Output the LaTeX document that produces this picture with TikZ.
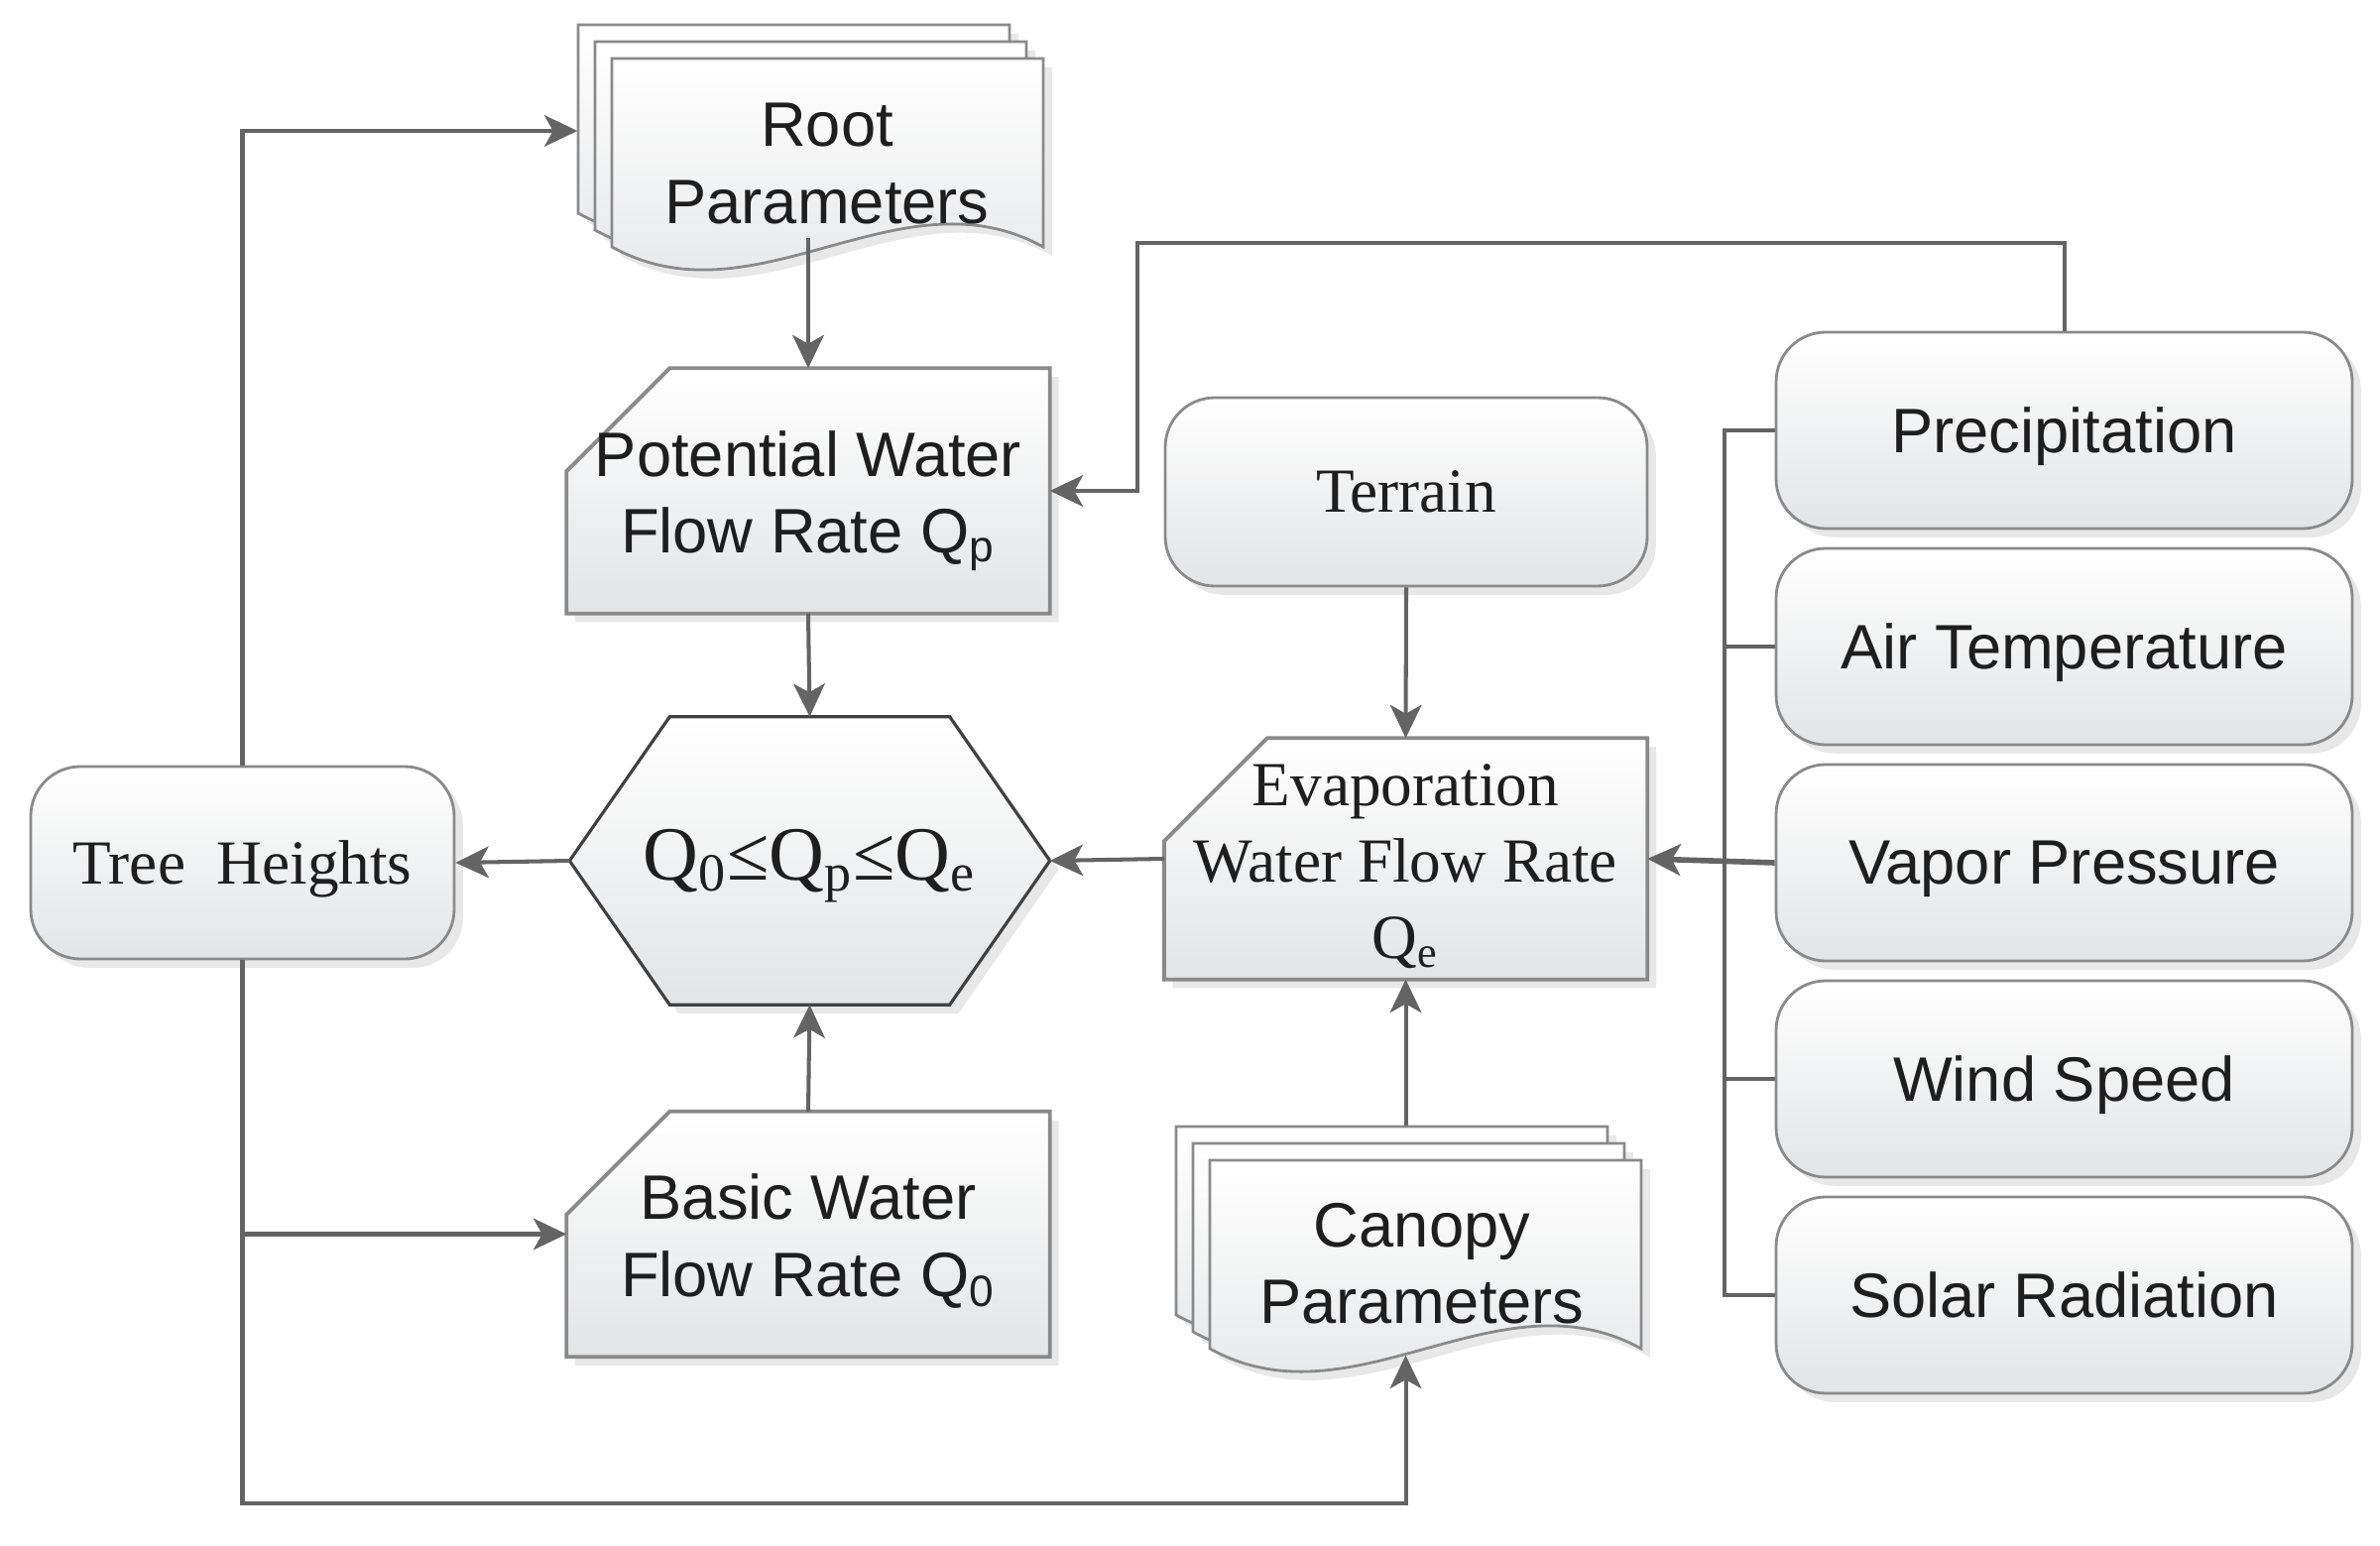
\documentclass[tikz,border=0pt]{standalone}
\usepackage{fontspec}
\setmainfont{Liberation Serif}
\newfontfamily\arialfont{Liberation Sans}
\usetikzlibrary{arrows.meta,shadows,backgrounds,calc}

\definecolor{linegray}{HTML}{646464}
\definecolor{boxline}{HTML}{8A8A8A}
\definecolor{shadebot}{HTML}{E3E4E6}
\definecolor{txt}{HTML}{1E1E1E}

% one sheet of a document stack, top left corner at (#1,#2)
\newcommand{\docsheet}[2]{%
  \path[sheet] (#1,#2) -- (#1+4.35,#2) -- (#1+4.35,#2-1.9)
    .. controls (#1+2.9,#2-1.1) and (#1+1.45,#2-2.7) .. (#1,#2-1.9) -- cycle;}
% subscript that does not change the line depth
\newcommand{\lowidx}[1]{\smash{\textsubscript{#1}}}

\begin{document}
\begin{tikzpicture}[font=\fontsize{18}{22}\selectfont, text=txt,
  boxfill/.style={top color=white, bottom color=shadebot,
    drop shadow={shadow xshift=2.5pt, shadow yshift=-2.5pt, opacity=0.18}},
  rbox/.style={boxfill, draw=boxline, line width=0.8pt, rounded corners=0.5cm, align=center, text depth=0pt},
  flownode/.style={minimum width=4.86cm, minimum height=2.46cm, align=center, inner sep=0pt},
  stack/.style={minimum width=4.69cm, inner sep=0pt},
  sans/.style={font=\arialfont\fontsize{18}{22}\selectfont},
  cutline/.style={boxfill, draw=boxline, line width=1.1pt},
  sheet/.style={boxfill, draw=boxline, line width=0.8pt},
  conn/.style={draw=linegray, line width=1.15pt},
  arr/.style={conn, -{Stealth[length=9.5pt, width=9pt, inset=2.5pt]}}]
\useasboundingbox (0,0) rectangle (24,15.58);

% document stacks
\docsheet{5.83}{15.33}
\docsheet{6.00}{15.16}
\docsheet{6.17}{14.99}
\node[sans, align=center] (rootlbl) at (8.34,13.93) {Root\\Parameters};
\node[stack, minimum height=2.14cm] (root) at (8.175,14.26) {};

\docsheet{11.86}{4.22}
\docsheet{12.03}{4.05}
\docsheet{12.20}{3.88}
\node[sans, align=center] (canopylbl) at (14.34,2.84) {Canopy\\Parameters};
\node[stack, minimum height=2.30cm] (canopy) at (13.205,3.07) {};

% boxes
\node[rbox, minimum width=4.27cm, minimum height=1.94cm] (tree) at (2.445,6.88) {Tree~ Heights};
\node[rbox, minimum width=4.86cm, minimum height=1.90cm] (terrain) at (14.18,10.62) {Terrain};
\node[flownode, sans] (pot) at (8.15,10.63) {\rule{0pt}{17pt}Potential Water\\Flow Rate Q\lowidx{p}};
\node[flownode, sans] (basic) at (8.15,3.135) {\rule{0pt}{17pt}Basic Water\\Flow Rate Q\lowidx{0}};
\node[flownode, minimum height=2.42cm] (evap) at (14.175,6.92) {\rule{0pt}{16.3pt}Evaporation\\Water Flow Rate\\Q\lowidx{e}};
\node[flownode, minimum width=4.83cm, minimum height=2.89cm, font=\fontsize{22}{26}\selectfont] (hex) at (8.165,6.90)
  {Q\lowidx{0}≤Q\lowidx{p}≤Q\lowidx{e}};

\begin{scope}[on background layer]
\foreach \n in {pot,basic,evap}
  \path[cutline] (\n.south west) -- (\n.south east) -- (\n.north east)
    -- ([xshift=1.04cm]\n.north west) -- ([yshift=-1.04cm]\n.north west) -- cycle;
\path[boxfill, draw=black!75, line width=0.9pt] (hex.west) -- ([xshift=1.01cm]hex.north west)
  -- ([xshift=-1.01cm]hex.north east) -- (hex.east) -- ([xshift=-1.01cm]hex.south east)
  -- ([xshift=1.01cm]hex.south west) -- cycle;
\end{scope}

\foreach \lbl [count=\i] in {Precipitation, Air Temperature, Vapor Pressure, Wind Speed, Solar Radiation}
  \node[rbox, sans, minimum width=5.81cm, minimum height=1.98cm] (w\i) at (20.815,13.42-2.18*\i) {\lbl};

% connectors
\draw[arr] (root.south -| pot.north) -- (pot.north);
\draw[arr] (pot.south) -- (hex.north);
\draw[arr] (basic.north) -- (hex.south);
\draw[arr] (hex.west) -- (tree.east);
\draw[arr] (evap.west) -- (hex.east);
\draw[arr] (terrain.south) -- (evap.north);
\draw[arr] (canopy.north -| evap.south) -- (evap.south);
\draw[arr] (tree.north) |- (root.west);
\draw[arr] (tree.south) -- ++(0,-5.48) -| (canopy.south -| evap.south);
\draw[arr] (tree.south |- basic.west) -- (basic.west);
\draw[arr] (w1.north) -- ++(0,0.89) -| ([xshift=0.88cm]pot.east) -- (pot.east);
\draw[conn] (w1.west) -- ++(-0.51,0) |- (w5.west);
\foreach \i in {2,4} \draw[conn] (w\i.west) -- ++(-0.51,0);
\draw[arr, line width=1.6pt] (w3.west) -- (evap.east);
\end{tikzpicture}
\end{document}
